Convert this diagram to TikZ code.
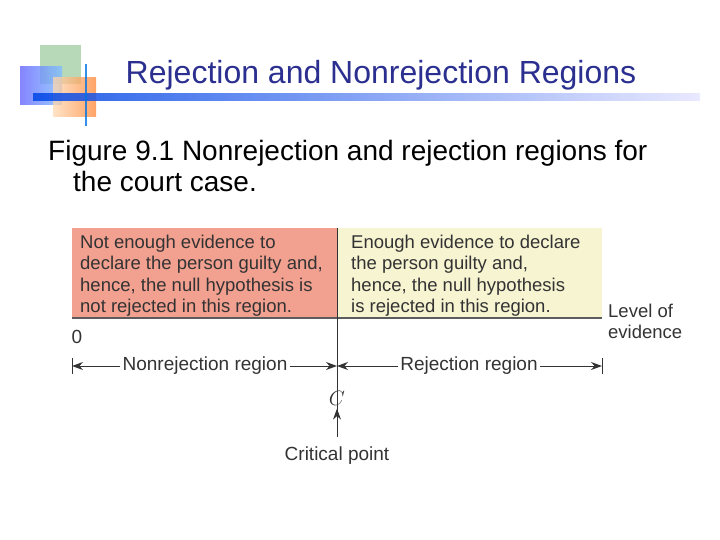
\documentclass[tikz,border=0pt]{standalone}
\usepackage{fontspec}
\setmainfont{Liberation Sans}
\usetikzlibrary{arrows.meta}
\definecolor{ttl}{HTML}{2B2F8F}
\definecolor{redbox}{HTML}{F2A090}
\definecolor{yelbox}{HTML}{F7F4D2}
\definecolor{txt}{HTML}{333333}
\begin{document}
\begin{tikzpicture}[x=1pt,y=-1pt,
  boxtxt/.style={font=\fontsize{18.5}{21.3}\selectfont,text=txt,align=left,anchor=north west,inner sep=0pt},
  lbl/.style={font=\fontsize{19}{22}\selectfont,text=txt,inner sep=2pt},
  arr/.style={-{Stealth[length=11pt,width=8pt]},txt,line width=1pt}]
\useasboundingbox (0,0) rectangle (720,540);
% decoration
\fill[green!30!gray!50!white,opacity=0.85] (40,45) rectangle (81,84);
\shade[left color=blue!60!white, right color=cyan!50!blue!50!white,opacity=0.8] (20,67) rectangle (62,105);
\shade[left color=orange!30!white, right color=orange!80!red!80,opacity=0.75] (53,78) rectangle (96,117);
\shade[left color=blue!70!cyan!90!black, right color=blue!10!white,opacity=0.85] (33,94) rectangle (700,101);
\draw[blue!50!cyan!90!black,line width=2pt,opacity=0.8] (86,64) -- (86,126);
\node[font=\fontsize{32}{36}\selectfont,text=ttl] (title) at (381,75) {Rejection and Nonrejection Regions};
\node[font=\fontsize{28}{31}\selectfont,align=left,anchor=north west,inner sep=0pt] (fig) at (48,140)
  {Figure 9.1 Nonrejection and rejection regions for\\\hspace*{25pt}the court case.};
% boxes
\fill[redbox] (72,228) rectangle (337,318);
\fill[yelbox] (337,228) rectangle (602,318);
\draw[txt!80,line width=2pt] (72,318) -- (602,318);
\coordinate (ctop) at (337,228);
\coordinate (cbot) at (337,423);
\draw[txt,line width=0.8pt] (ctop) -- (cbot);
\node[boxtxt] (lt) at (80,235) {Not enough evidence to\\declare the person guilty and,\\hence, the null hypothesis is\\not rejected in this region.};
\node[boxtxt] (rt) at (351,235) {Enough evidence to declare\\the person guilty and,\\hence, the null hypothesis\\is rejected in this region.};
\node[boxtxt] (lev) at (608,304) {Level of\\evidence};
\node[lbl] (zero) at (77,337) {0};
% ticks
\coordinate (lt1) at (72,358); \coordinate (lt2) at (72,374);
\coordinate (rt1) at (602,358); \coordinate (rt2) at (602,374);
\draw[txt,line width=0.8pt] (lt1) -- (lt2) (rt1) -- (rt2);
\node[lbl] (nr) at (205,366) {Nonrejection region};
\node[lbl] (rr) at (469,366) {Rejection region};
\coordinate (la) at (72,366); \coordinate (lc) at (337,366); \coordinate (ra) at (602,366);
\draw[arr] (nr.west) -- (la);
\draw[arr] (nr.east) -- (lc);
\draw[arr] (rr.west) -- (lc);
\draw[arr] (rr.east) -- (ra);
\node[font=\fontsize{20}{22}\selectfont,text=txt] (c) at (337,398) {$C$};
\node[lbl] (crit) at (337,456) {Critical point};
\draw[arr] (337,437) -- (c.south);
\end{tikzpicture}
\end{document}
